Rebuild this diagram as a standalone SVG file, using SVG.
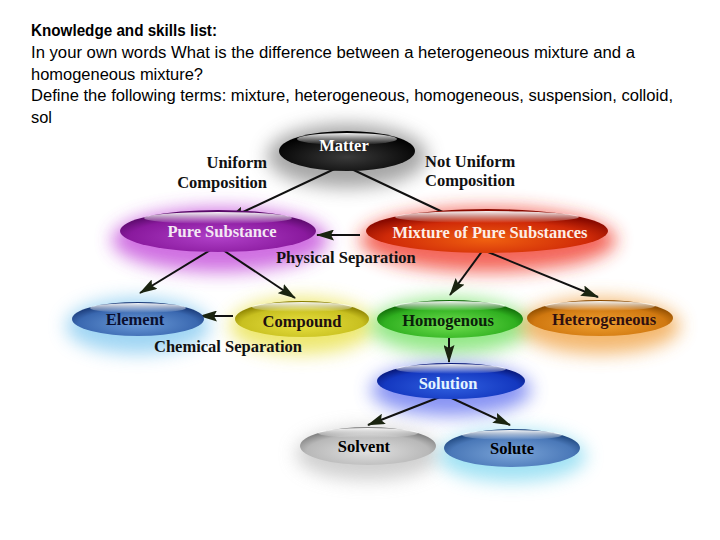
<svg xmlns="http://www.w3.org/2000/svg" width="720" height="540" viewBox="0 0 720 540">
<style>
.hd{font-family:"Liberation Sans",Arial,sans-serif;font-size:16px;fill:#000}
.lb{font-family:"Liberation Serif","Times New Roman",serif;font-size:16.5px;font-weight:bold;fill:#111}
.nt{font-family:"Liberation Serif","Times New Roman",serif;font-size:16.5px;font-weight:bold;text-anchor:middle}
.cn{stroke:#111;stroke-width:2;fill:none}
.hl{fill:url(#hlg)}
.glow{filter:url(#blur);opacity:.75}
</style>
<defs>
<filter id="blur" x="-50%" y="-80%" width="200%" height="260%"><feGaussianBlur stdDeviation="9"/></filter>
<marker id="ah" viewBox="0 0 18 11" refX="17" refY="5.5" markerWidth="18" markerHeight="11" markerUnits="userSpaceOnUse" orient="auto"><path d="M0,0 L18,5.5 L0,11 L3,5.5 Z" fill="#1a2410"/></marker>
<linearGradient id="hlg" x1="0" y1="0" x2="0" y2="1"><stop offset="0" stop-color="#fff" stop-opacity=".95"/><stop offset="1" stop-color="#fff" stop-opacity="0"/></linearGradient>
<radialGradient id="gBlack" cx=".5" cy=".65" r=".6"><stop offset="0" stop-color="#3a3a3a"/><stop offset=".7" stop-color="#111"/><stop offset="1" stop-color="#000"/></radialGradient>
<radialGradient id="gPurple" cx=".5" cy=".65" r=".6"><stop offset="0" stop-color="#b040c8"/><stop offset=".75" stop-color="#8a1a9e"/><stop offset="1" stop-color="#5a0a6a"/></radialGradient>
<radialGradient id="gRed" cx=".5" cy=".7" r=".6"><stop offset="0" stop-color="#f06010"/><stop offset=".7" stop-color="#d02a08"/><stop offset="1" stop-color="#8a0a00"/></radialGradient>
<radialGradient id="gBlue" cx=".5" cy=".65" r=".6"><stop offset="0" stop-color="#6a9ad8"/><stop offset=".75" stop-color="#3a68b0"/><stop offset="1" stop-color="#1a3a78"/></radialGradient>
<radialGradient id="gYellow" cx=".5" cy=".65" r=".6"><stop offset="0" stop-color="#e8e040"/><stop offset=".75" stop-color="#c8c020"/><stop offset="1" stop-color="#8a8000"/></radialGradient>
<radialGradient id="gGreen" cx=".5" cy=".65" r=".6"><stop offset="0" stop-color="#70e050"/><stop offset=".75" stop-color="#30b020"/><stop offset="1" stop-color="#106a08"/></radialGradient>
<radialGradient id="gOrange" cx=".5" cy=".65" r=".6"><stop offset="0" stop-color="#f0a030"/><stop offset=".75" stop-color="#d07810"/><stop offset="1" stop-color="#8a4a00"/></radialGradient>
<radialGradient id="gDeep" cx=".5" cy=".65" r=".6"><stop offset="0" stop-color="#3060e0"/><stop offset=".75" stop-color="#1438c0"/><stop offset="1" stop-color="#081878"/></radialGradient>
<radialGradient id="gGray" cx=".5" cy=".65" r=".6"><stop offset="0" stop-color="#e0e0e0"/><stop offset=".75" stop-color="#b8b8b8"/><stop offset="1" stop-color="#808080"/></radialGradient>
<radialGradient id="gSteel" cx=".5" cy=".65" r=".6"><stop offset="0" stop-color="#7aa4d8"/><stop offset=".75" stop-color="#4a78b8"/><stop offset="1" stop-color="#204880"/></radialGradient>
</defs>
<rect width="720" height="540" fill="#fff"/>

<g id="header">
<text class="hd" x="31" y="36" font-weight="bold" textLength="186" lengthAdjust="spacingAndGlyphs">Knowledge and skills list:</text>
<text class="hd" x="31" y="58" textLength="604" lengthAdjust="spacingAndGlyphs">In your own words What is the difference between a heterogeneous mixture and a</text>
<text class="hd" x="31" y="80" textLength="172" lengthAdjust="spacingAndGlyphs">homogeneous mixture?</text>
<text class="hd" x="31" y="101" textLength="642" lengthAdjust="spacingAndGlyphs">Define the following terms: mixture, heterogeneous, homogeneous, suspension, colloid,</text>
<text class="hd" x="31" y="123" textLength="21" lengthAdjust="spacingAndGlyphs">sol</text>
</g>

<g id="glows">
<ellipse class="glow" cx="347" cy="156" rx="80" ry="32" fill="#888"/>
<ellipse class="glow" cx="220" cy="240" rx="108" ry="32" fill="#c040d8"/>
<ellipse class="glow" cx="488" cy="240" rx="128" ry="32" fill="#f03020"/>
<ellipse class="glow" cx="138" cy="326" rx="72" ry="28" fill="#80c8f0"/>
<ellipse class="glow" cx="302" cy="326" rx="72" ry="28" fill="#e8e040"/>
<ellipse class="glow" cx="450" cy="326" rx="80" ry="28" fill="#70e060"/>
<ellipse class="glow" cx="600" cy="326" rx="80" ry="28" fill="#f0a040"/>
<ellipse class="glow" cx="451" cy="390" rx="80" ry="26" fill="#6070f0"/>
<ellipse class="glow" cx="368" cy="454" rx="72" ry="26" fill="#c0c0c0"/>
<ellipse class="glow" cx="512" cy="456" rx="74" ry="26" fill="#80d8f0"/>
</g>

<g id="connectors">
<line class="cn" x1="343" y1="165" x2="228" y2="219" marker-end="url(#ah)"/>
<line class="cn" x1="343" y1="165" x2="466" y2="223" marker-end="url(#ah)"/>
<line class="cn" x1="360" y1="235" x2="317" y2="235" marker-end="url(#ah)"/>
<line class="cn" x1="217" y1="246" x2="140" y2="293" marker-end="url(#ah)"/>
<line class="cn" x1="217" y1="246" x2="295" y2="298" marker-end="url(#ah)"/>
<line class="cn" x1="233" y1="316" x2="200" y2="316" marker-end="url(#ah)"/>
<line class="cn" x1="483" y1="250" x2="450" y2="295" marker-end="url(#ah)"/>
<line class="cn" x1="483" y1="250" x2="598" y2="297" marker-end="url(#ah)"/>
<line class="cn" x1="449" y1="338" x2="449" y2="362" marker-end="url(#ah)"/>
<line class="cn" x1="445" y1="395" x2="368" y2="425" marker-end="url(#ah)"/>
<line class="cn" x1="445" y1="395" x2="510" y2="425" marker-end="url(#ah)"/>
</g>

<g id="labels">
<text class="lb" x="267" y="168" text-anchor="end">Uniform</text>
<text class="lb" x="267" y="188" text-anchor="end">Composition</text>
<text class="lb" x="425" y="167">Not Uniform</text>
<text class="lb" x="425" y="186">Composition</text>
<text class="lb" x="276" y="263">Physical Separation</text>
<text class="lb" x="154" y="352">Chemical Separation</text>
</g>

<g id="matter">
<ellipse cx="347" cy="151" rx="68" ry="20" fill="url(#gBlack)"/>
<ellipse class="hl" cx="347" cy="139" rx="50" ry="6"/>
<text class="nt" x="344" y="151" fill="#fff">Matter</text>
</g>
<g id="pure-substance">
<ellipse cx="218" cy="231" rx="98" ry="21" fill="url(#gPurple)"/>
<ellipse class="hl" cx="218" cy="218" rx="74" ry="6"/>
<text class="nt" x="222" y="237" fill="#f4e8f4">Pure Substance</text>
</g>
<g id="mixture">
<ellipse cx="487" cy="231" rx="121" ry="22" fill="url(#gRed)"/>
<ellipse class="hl" cx="487" cy="217" rx="92" ry="6"/>
<text class="nt" x="490" y="238" fill="#fdeee6">Mixture of Pure Substances</text>
</g>
<g id="element">
<ellipse cx="138" cy="319" rx="66" ry="17" fill="url(#gBlue)"/>
<ellipse class="hl" cx="138" cy="308" rx="48" ry="5"/>
<text class="nt" x="135" y="325" fill="#0a1030">Element</text>
</g>
<g id="compound">
<ellipse cx="302" cy="319" rx="67" ry="18" fill="url(#gYellow)"/>
<ellipse class="hl" cx="302" cy="307" rx="50" ry="5"/>
<text class="nt" x="302" y="327" fill="#201010">Compound</text>
</g>
<g id="homogenous">
<ellipse cx="450" cy="319" rx="73" ry="19" fill="url(#gGreen)"/>
<ellipse class="hl" cx="450" cy="306" rx="55" ry="5"/>
<text class="nt" x="448" y="326" fill="#0a200a">Homogenous</text>
</g>
<g id="heterogeneous">
<ellipse cx="600" cy="318" rx="73" ry="18" fill="url(#gOrange)"/>
<ellipse class="hl" cx="600" cy="306" rx="55" ry="5"/>
<text class="nt" x="604" y="325" fill="#301010">Heterogeneous</text>
</g>
<g id="solution">
<ellipse cx="451" cy="381" rx="74" ry="18" fill="url(#gDeep)"/>
<ellipse class="hl" cx="451" cy="369" rx="55" ry="5"/>
<text class="nt" x="448" y="389" fill="#e4f4ff">Solution</text>
</g>
<g id="solvent">
<ellipse cx="368" cy="446" rx="68" ry="19" fill="url(#gGray)"/>
<ellipse class="hl" cx="368" cy="433" rx="50" ry="5"/>
<text class="nt" x="364" y="452" fill="#000">Solvent</text>
</g>
<g id="solute">
<ellipse cx="512" cy="448" rx="68" ry="19" fill="url(#gSteel)"/>
<ellipse class="hl" cx="512" cy="435" rx="50" ry="5"/>
<text class="nt" x="512" y="454" fill="#000">Solute</text>
</g>
</svg>
